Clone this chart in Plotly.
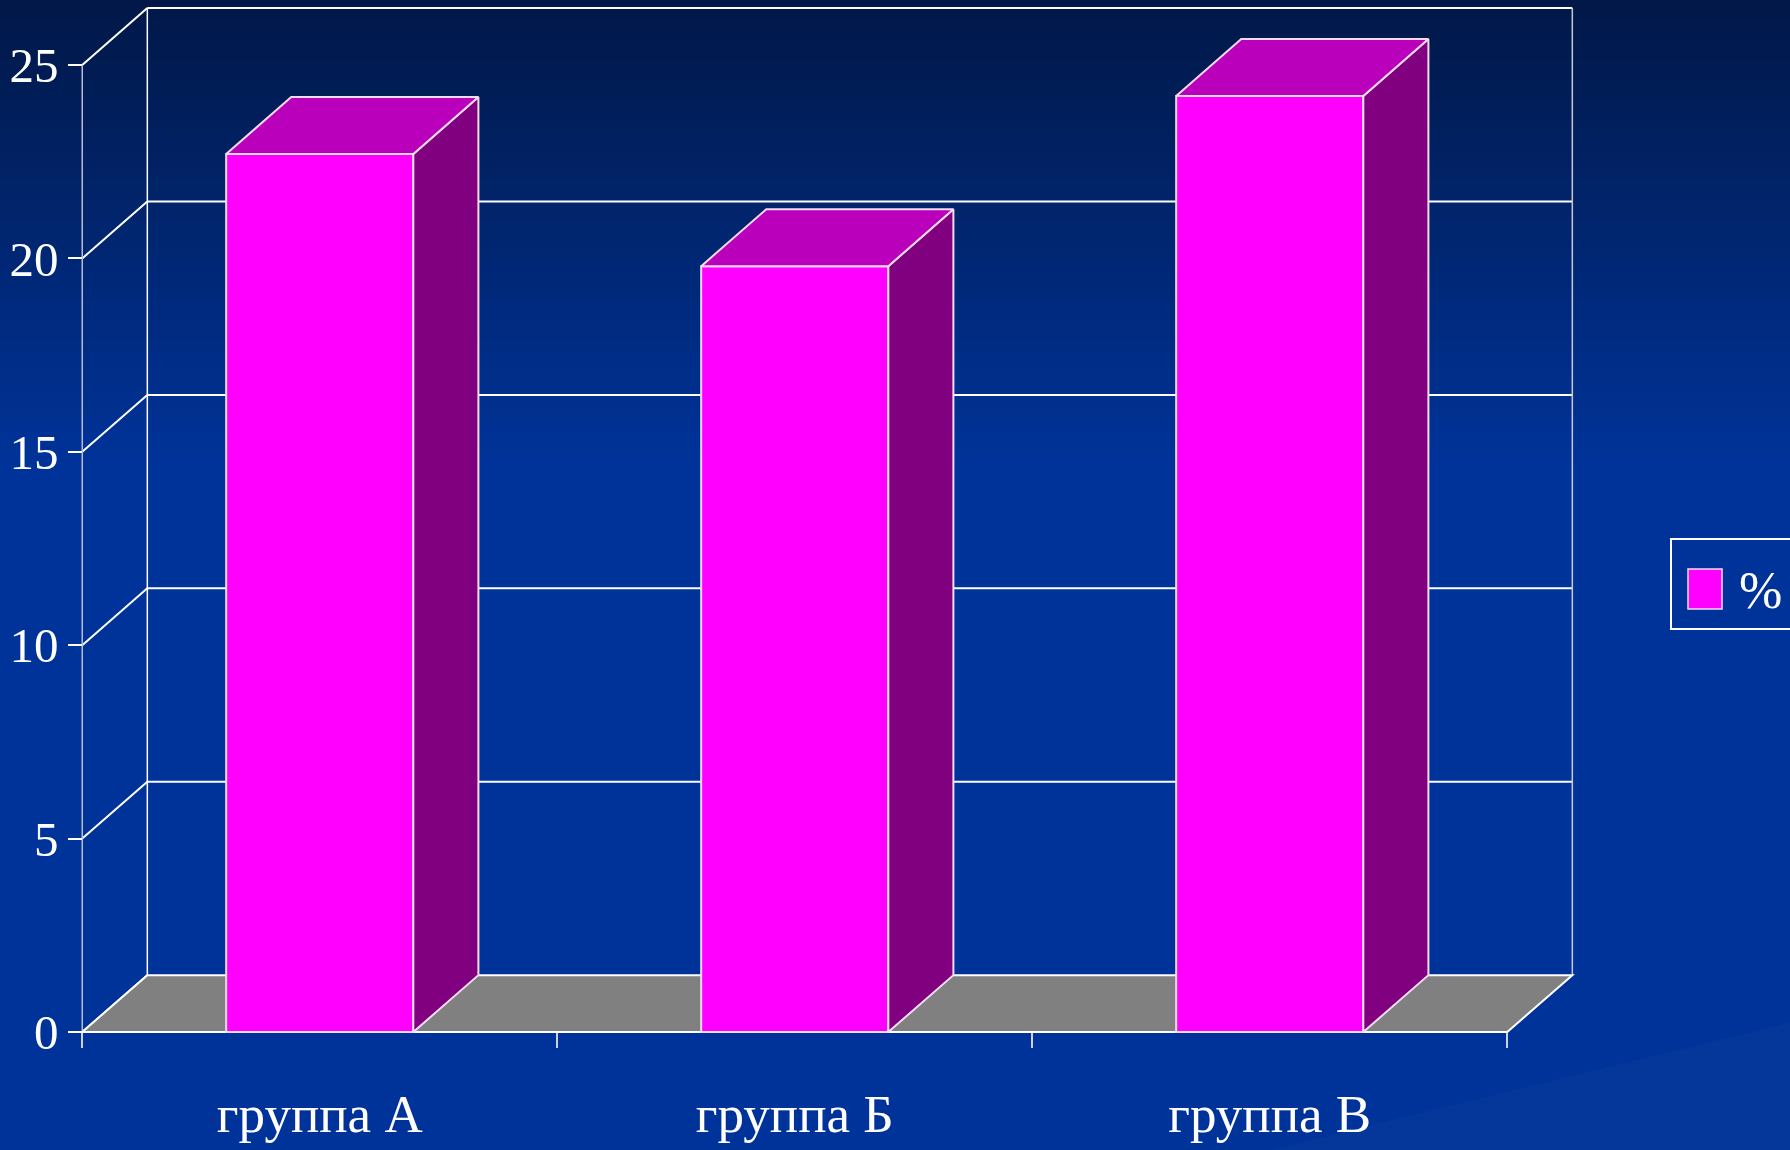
import plotly.graph_objects as go

# ---------------- data ----------------
categories = ["группа А", "группа Б", "группа В"]
values = [22.7, 19.8, 24.2]
series_name = "%"
y_ticks = [0, 5, 10, 15, 20, 25]

# ---------------- style / geometry ----------------
FIG_W, FIG_H = 1790, 1150
M_L, M_R, M_T, M_B = 68, 164, 0, 106
X_RANGE = [-0.53, 2.75]
Y_RANGE = [-0.31, 26.68]
DX, DY = 0.137, 1.47          # 3-D depth offset, in axis units
BAR_W = 0.394
FONT = "Liberation Serif"
FRONT = "#ff00ff"
TOP = "#bb00bb"
SIDE = "#800080"
EDGE = "#f2dcf2"
FLOOR = "#808080"
GRID = "#ffffff"

plot_w = FIG_W - M_L - M_R
plot_h = FIG_H - M_T - M_B


def px_x(px):
    return (px - M_L) / plot_w


def px_y(py):
    return (FIG_H - M_B - py) / plot_h


xpos = list(range(len(categories)))
x_left_edge = -0.5
x_right_edge = len(categories) - 0.5
ytop = max(y_ticks)

shapes = []

# background gradient (dark navy at top -> royal blue)
top_c = (1, 24, 72)
bot_c = (0, 51, 153)
grad_end = 470
n = 47
for i in range(n):
    t = i / (n - 1)
    c = tuple(round(top_c[k] + (bot_c[k] - top_c[k]) * t) for k in range(3))
    y0 = grad_end * i / n
    y1 = grad_end * (i + 1) / n + 1
    shapes.append(dict(type="rect", xref="paper", yref="paper",
                       x0=px_x(-10), x1=px_x(FIG_W + 10),
                       y0=px_y(y1), y1=px_y(y0),
                       fillcolor="rgb(%d,%d,%d)" % c, line=dict(width=0),
                       layer="below"))
# faint light streak, lower right
streak = "M %f,%f L %f,%f L %f,%f Z" % (
    px_x(FIG_W + 10), px_y(1020), px_x(FIG_W + 10), px_y(FIG_H + 10),
    px_x(1230), px_y(FIG_H + 10))
shapes.append(dict(type="path", xref="paper", yref="paper", path=streak,
                   fillcolor="rgba(255,255,255,0.018)", line=dict(width=0),
                   layer="below"))

# back wall gridlines and tick diagonals
for v in y_ticks:
    if v > 0:
        shapes.append(dict(type="line", xref="x", yref="y",
                           x0=x_left_edge + DX, x1=x_right_edge + DX,
                           y0=v + DY, y1=v + DY,
                           line=dict(color=GRID, width=2), layer="below"))
    shapes.append(dict(type="line", xref="x", yref="y",
                       x0=x_left_edge, x1=x_left_edge + DX,
                       y0=v, y1=v + DY,
                       line=dict(color=GRID, width=2), layer="below"))
# back wall verticals
for xe, col in [(x_left_edge + DX, GRID), (x_right_edge + DX, "#c8c8d0")]:
    shapes.append(dict(type="line", xref="x", yref="y",
                       x0=xe, x1=xe, y0=DY, y1=ytop + DY,
                       line=dict(color=col, width=1.5), layer="below"))
# front value axis line
shapes.append(dict(type="line", xref="x", yref="y",
                   x0=x_left_edge, x1=x_left_edge, y0=0, y1=ytop,
                   line=dict(color="#b8bcd0", width=1.5), layer="below"))
# floor
floor_path = "M %f,%f L %f,%f L %f,%f L %f,%f Z" % (
    x_left_edge, 0, x_right_edge, 0, x_right_edge + DX, DY, x_left_edge + DX, DY)
shapes.append(dict(type="path", xref="x", yref="y", path=floor_path,
                   fillcolor=FLOOR, line=dict(color=GRID, width=2), layer="below"))

# legend (manual, large swatch)
shapes.append(dict(type="rect", xref="paper", yref="paper",
                   x0=px_x(1671), x1=px_x(1830), y0=px_y(629), y1=px_y(539),
                   line=dict(color="#ffffff", width=2), fillcolor="rgba(0,0,0,0)"))
shapes.append(dict(type="rect", xref="paper", yref="paper",
                   x0=px_x(1688), x1=px_x(1722), y0=px_y(609), y1=px_y(569),
                   line=dict(color=EDGE, width=1.5), fillcolor=FRONT))

fig = go.Figure()

# front faces
fig.add_trace(go.Bar(x=xpos, y=values, width=BAR_W, name=series_name,
                     marker=dict(color=FRONT, line=dict(color=EDGE, width=2)),
                     showlegend=False, hoverinfo="y"))

# side and top faces
sx, sy = [], []
tx, ty = [], []
for xi, v in zip(xpos, values):
    xl, xr = xi - BAR_W / 2, xi + BAR_W / 2
    sx += [xr, xr + DX, xr + DX, xr, xr, None]
    sy += [0, DY, v + DY, v, 0, None]
    tx += [xl, xl + DX, xr + DX, xr, xl, None]
    ty += [v, v + DY, v + DY, v, v, None]
fig.add_trace(go.Scatter(x=sx, y=sy, mode="lines", fill="toself",
                         fillcolor=SIDE, line=dict(color=EDGE, width=2),
                         showlegend=False, hoverinfo="skip"))
fig.add_trace(go.Scatter(x=tx, y=ty, mode="lines", fill="toself",
                         fillcolor=TOP, line=dict(color=EDGE, width=2),
                         showlegend=False, hoverinfo="skip"))

fig.update_layout(
    width=FIG_W, height=FIG_H,
    margin=dict(l=M_L, r=M_R, t=M_T, b=M_B, pad=0),
    paper_bgcolor="rgb(0,51,153)",
    plot_bgcolor="rgba(0,0,0,0)",
    showlegend=False,
    shapes=shapes,
    annotations=[dict(xref="paper", yref="paper", x=px_x(1760), y=px_y(590),
                      text=series_name, showarrow=False,
                      font=dict(family=FONT, size=52, color="#ffffff"),
                      xanchor="center", yanchor="middle")],
    xaxis=dict(range=X_RANGE, showgrid=False, zeroline=False, showline=False,
               tickmode="array", tickvals=xpos, ticktext=categories, ticks="",
               anchor="free",
               position=(0 - Y_RANGE[0]) / (Y_RANGE[1] - Y_RANGE[0]),
               ticklabelstandoff=46,
               tickfont=dict(family=FONT, size=53, color="#ffffff"),
               minor=dict(tickmode="array",
                          tickvals=[i - 0.5 for i in range(len(categories) + 1)],
                          ticks="outside", ticklen=15, tickwidth=1.5,
                          tickcolor="#d0d0d8", showgrid=False)),
    yaxis=dict(range=Y_RANGE, showgrid=False, zeroline=False, showline=False,
               tickmode="array", tickvals=y_ticks, ticks="outside",
               ticklen=14, tickwidth=2, tickcolor="#ffffff",
               anchor="free",
               position=(x_left_edge - X_RANGE[0]) / (X_RANGE[1] - X_RANGE[0]),
               ticklabelstandoff=0,
               tickfont=dict(family=FONT, size=49, color="#ffffff")),
)

fig.write_html("out.html")
